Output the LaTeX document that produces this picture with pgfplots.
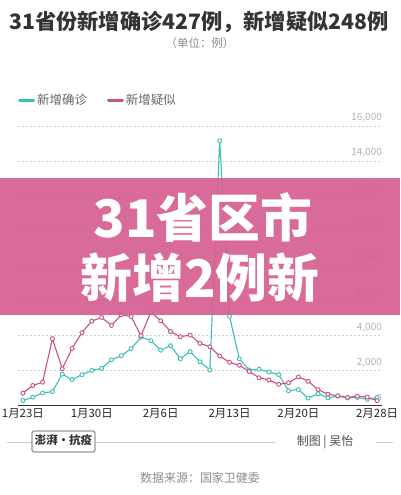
\documentclass[border=0pt]{standalone}
\usepackage{fontspec}
\setmainfont{Noto Sans CJK SC}
\usepackage{pgfplots}
\pgfplotsset{compat=1.18}
\definecolor{qz}{HTML}{3CBEBA}
\definecolor{ys}{HTML}{C85280}
\definecolor{banner}{HTML}{D66092}
\definecolor{titlec}{HTML}{333333}

\begin{document}
\begin{tikzpicture}[x=1bp,y=1bp]
\path[use as bounding box] (0,0) rectangle (400,495);

% title block
\node[font=\fontsize{21.3}{23}\selectfont\bfseries, text=titlec, inner sep=0pt] at (199,473) {31省份新增确诊427例，新增疑似248例};
\node[font=\fontsize{11.5}{12}\selectfont, text=black!45] at (200,452) {（单位：例）};

\begin{axis}[
  at={(18bp,90bp)}, anchor=south west,
  scale only axis, width=364bp, height=279bp,
  xmin=-0.5, xmax=36.5, ymin=0, ymax=16000,
  axis x line*=bottom, axis y line*=right,
  x axis line style={-, draw=black!80, line width=0.9bp},
  y axis line style={draw=none},
  xtick={0,7,14,21,28,36},
  xticklabels={1月23日,1月30日,2月6日,2月13日,2月20日,2月28日},
  xtick style={draw=none}, ytick style={draw=none},
  ytick={0,2000,...,16000},
  scaled y ticks=false,
  ymajorgrids,
  major grid style={dash pattern=on 2bp off 2bp, draw=black!18, line width=0.6bp},
  yticklabel style={anchor=south east, inner sep=0pt, yshift=3bp,
    font=\fontsize{10}{10}\selectfont, text=black!30},
  xticklabel style={font=\fontsize{11.5}{11.5}\selectfont, text=black!85, inner sep=1bp, yshift=-2bp},
  /pgf/number format/1000 sep={,},
  /pgf/number format/assume math mode=true,
  legend style={at={(0,1.093)}, anchor=west, draw=none, fill=none,
    legend columns=-1, inner sep=0pt,
    font=\fontsize{12.5}{12.5}\selectfont, text=black!60,
    /tikz/every even column/.append style={column sep=18bp}},
  legend image code/.code={\draw[line width=3bp, line cap=round] (1.5bp,0bp) -- (15.5bp,0bp);},
]
% 新增确诊, 1月23日 .. 2月28日
\addplot[qz, line width=1.1bp, mark=*, mark size=2bp, mark options={fill=white, line width=0.9bp}]
  coordinates {
  (0,259) (1,444) (2,688) (3,769) (4,1771) (5,1459) (6,1737) (7,1982)
  (8,2102) (9,2590) (10,2829) (11,3235) (12,3887) (13,3694) (14,3143)
  (15,3399) (16,2656) (17,3062) (18,2478) (19,2015) (20,15152) (21,5090)
  (22,2641) (23,2009) (24,2051) (25,1891) (26,1749) (27,820) (28,889)
  (29,397) (30,648) (31,409) (32,508) (33,406) (34,433) (35,327) (36,427)
  };
% 新增疑似
\addplot[ys, line width=1.1bp, mark=*, mark size=2bp, mark options={fill=white, line width=0.9bp}]
  coordinates {
  (0,680) (1,1118) (2,1309) (3,3806) (4,2077) (5,3248) (6,4148) (7,4812)
  (8,5019) (9,4562) (10,5173) (11,5072) (12,3971) (13,5328) (14,4833)
  (15,4214) (16,3916) (17,4008) (18,3536) (19,3342) (20,2807) (21,2450)
  (22,2277) (23,1918) (24,1563) (25,1432) (26,1185) (27,1277) (28,1614)
  (29,1361) (30,882) (31,620) (32,530) (33,439) (34,508) (35,452) (36,248)
  };
\legend{新增确诊,新增疑似}
\end{axis}

% overlay banner
\fill[banner, opacity=0.93] (0,180) rectangle (400,317);
\node[text=white, font=\fontsize{52}{52}\selectfont\bfseries] at (203,277) {31省区市};
\node[text=white, font=\fontsize{52}{52}\selectfont\bfseries] at (200,217) {新增2例新};

% footer
\draw[black!20, line width=0.8bp] (7,53) -- (32,53);
\draw[black!20, line width=0.8bp] (96,53) -- (275,53);
\draw[black!20, line width=0.8bp] (376,53) -- (393,53);
\draw[black!75, rounded corners=1.5bp, line width=0.7bp] (32,43) rectangle (95,64);
\node[font=\fontsize{11.5}{12}\selectfont\bfseries, text=black!80] at (63.5,55) {澎湃·抗疫};
\node[font=\fontsize{12}{12}\selectfont, text=black!70] at (325,53) {制图 | 吴怡};
\node[font=\fontsize{12}{12}\selectfont, text=black!45] at (200,17) {数据来源：国家卫健委};
\end{tikzpicture}
\end{document}
